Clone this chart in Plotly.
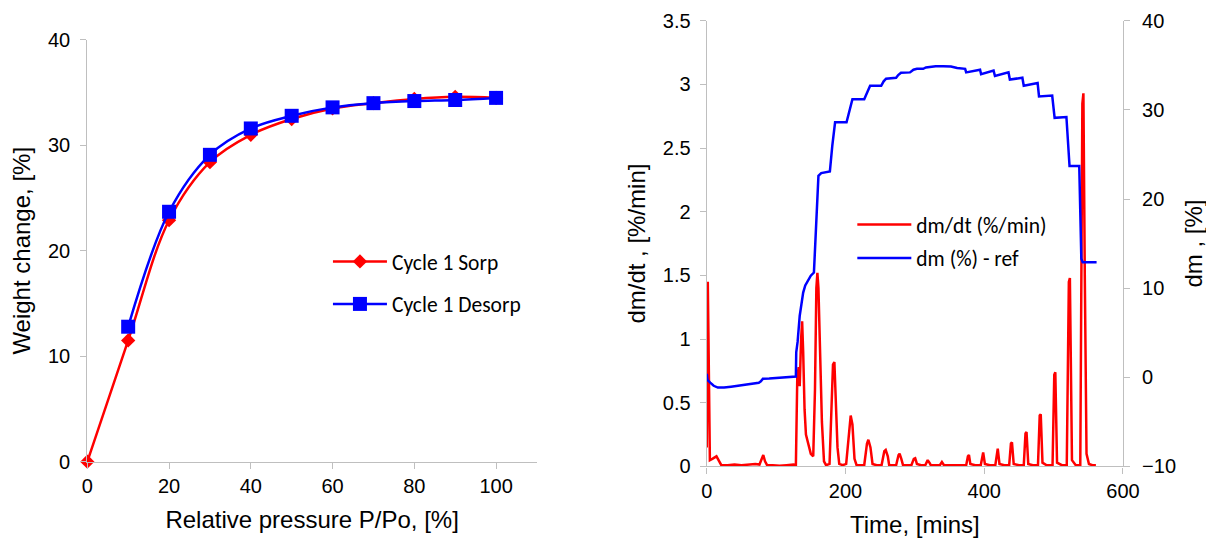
import plotly.graph_objects as go

# ---------------- Left chart data ----------------
sorp_p = [0, 10, 20, 30, 40, 50, 60, 70, 80, 90, 100]
sorp_w = [0, 11.5, 22.9, 28.4, 31.0, 32.5, 33.5, 34.0, 34.4, 34.6, 34.5]
desorp_p = [10, 20, 30, 40, 50, 60, 70, 80, 90, 100]
desorp_w = [12.8, 23.7, 29.1, 31.6, 32.8, 33.6, 34.0, 34.2, 34.3, 34.5]

# ---------------- Right chart data ----------------
dmdt_t = [0, 1.5, 2.5, 4.5, 8, 11, 14, 17, 21, 30, 40, 50, 60, 70, 76, 79, 81.5, 84, 87, 95,
          105, 115, 125, 128.5, 130.5, 132.5, 134, 136, 137.5, 139, 141, 143, 147, 150, 153.5,
          156, 158, 159.5, 161, 163.5, 166, 169, 172, 177, 180, 182, 184, 186, 188.5, 191, 196,
          201, 205, 207.5, 210, 213, 216, 222, 227, 231, 233, 236, 239, 245, 252, 256, 258, 261,
          263, 268, 273, 276.5, 278, 280.5, 283, 289, 295, 298.5, 300.5, 303, 309, 315, 318.5,
          321, 323, 330, 336, 339, 342, 350, 360, 368, 374, 376.5, 378, 380, 387, 395, 397.5,
          398.5, 401, 408, 416, 418.5, 419.5, 422, 429, 436, 438.5, 440, 442.5, 450, 457, 459.5,
          461, 463.5, 470, 477.5, 480, 481.5, 484, 490, 498.5, 501, 502.5, 505, 512, 519, 522,
          523.5, 526.5, 532, 538.5, 541.5, 543, 545, 547.5, 551, 556, 561]
dmdt_v = [0.15, 1.45, 1.0, 0.05, 0.06, 0.07, 0.08, 0.05, 0.01, 0.01, 0.015, 0.01, 0.015, 0.02,
          0.015, 0.05, 0.09, 0.04, 0.01, 0.01, 0.005, 0.01, 0.015, 0.01, 0.7, 0.78, 0.63, 1.0,
          1.14, 0.9, 0.45, 0.25, 0.16, 0.1, 0.08, 0.6, 1.4, 1.52, 1.4, 0.9, 0.35, 0.04, 0.01,
          0.02, 0.5, 0.8, 0.82, 0.55, 0.15, 0.02, 0.01, 0.02, 0.3, 0.4, 0.33, 0.06, 0.01, 0.01,
          0.01, 0.18, 0.21, 0.15, 0.02, 0.01, 0.01, 0.12, 0.13, 0.08, 0.01, 0.01, 0.01, 0.09,
          0.1, 0.06, 0.01, 0.01, 0.01, 0.06, 0.065, 0.02, 0.01, 0.01, 0.05, 0.03, 0.01, 0.01,
          0.01, 0.035, 0.01, 0.01, 0.01, 0.01, 0.01, 0.08, 0.09, 0.02, 0.01, 0.01, 0.1, 0.11,
          0.02, 0.01, 0.01, 0.13, 0.14, 0.02, 0.01, 0.01, 0.18, 0.19, 0.02, 0.01, 0.01, 0.26,
          0.27, 0.02, 0.01, 0.01, 0.40, 0.41, 0.03, 0.01, 0.01, 0.72, 0.74, 0.03, 0.01, 0.01,
          1.45, 1.48, 0.05, 0.01, 0.01, 2.85, 2.93, 1.5, 0.1, 0.02, 0.01, 0.01]

dm_t = [0, 1, 5, 10, 16, 25, 35, 45, 55, 65, 75, 78, 81, 90, 100, 110, 120, 128.5, 129, 131,
        134, 137, 139, 142, 146, 150, 154.5, 158, 161, 165, 177.5, 181, 185, 201.5, 206, 210,
        227, 231, 235.5, 251.5, 255, 258.5, 273, 276, 280, 293, 298, 303, 312, 316, 320, 330,
        341, 352, 361, 372.5, 374, 394, 395.5, 413.5, 415.5, 435, 437, 455, 457, 477, 479, 498,
        501.5, 518.5, 523, 537, 540, 542, 562]
dm_v = [0.4, -0.3, -0.6, -0.95, -1.15, -1.15, -1.05, -0.95, -0.85, -0.75, -0.6, -0.45, -0.15,
        -0.12, -0.08, -0.02, 0.02, 0.08, 2.8, 4.0, 6.9, 8.6, 9.5, 10.3, 10.9, 11.4, 11.75, 17,
        22.6, 22.9, 23.1, 26, 28.6, 28.6, 30, 31.2, 31.2, 32, 32.7, 32.7, 33.2, 33.5, 33.6, 33.9,
        34.15, 34.2, 34.5, 34.6, 34.6, 34.75, 34.8, 34.9, 34.9, 34.85, 34.7, 34.6, 34.2, 34.5,
        34.0, 34.4, 33.8, 34.2, 33.4, 33.6, 32.7, 33.0, 31.5, 31.6, 29.1, 29.2, 23.7, 23.7,
        13.3, 12.9, 12.9]

RED = "#FF0000"
BLUE = "#0000FF"
AXC = "#BFBFBF"
TICKFONT = dict(family="Liberation Sans, Arial, sans-serif", size=20, color="#000000")
TITLEFONT = dict(family="Liberation Sans, Arial, sans-serif", size=24, color="#000000")
LEGFONT = dict(family="Carlito, Lato, sans-serif", size=21.5, color="#000000")

fig = go.Figure()

fig.add_trace(go.Scatter(x=sorp_p, y=sorp_w, name="Cycle 1 Sorp", mode="lines+markers",
                         line=dict(color=RED, width=2.5, shape="spline"),
                         marker=dict(symbol="diamond", size=11, color=RED),
                         cliponaxis=False, xaxis="x", yaxis="y", legend="legend",
                         legendgroup="a"))
fig.add_trace(go.Scatter(x=desorp_p, y=desorp_w, name="Cycle 1 Desorp", mode="lines+markers",
                         line=dict(color=BLUE, width=2.5, shape="spline"),
                         marker=dict(symbol="square", size=14, color=BLUE),
                         cliponaxis=False, xaxis="x", yaxis="y", legend="legend",
                         legendgroup="b"))

fig.add_trace(go.Scatter(x=dmdt_t, y=dmdt_v, name="dm/dt (%/min)", mode="lines",
                         line=dict(color=RED, width=2.5),
                         xaxis="x2", yaxis="y2", legend="legend2", legendgroup="c"))
fig.add_trace(go.Scatter(x=dm_t, y=dm_v, name="dm (%) - ref", mode="lines",
                         line=dict(color=BLUE, width=2.5),
                         xaxis="x2", yaxis="y3", legend="legend2", legendgroup="d"))

axis_common = dict(showline=True, linecolor=AXC, linewidth=1.3, ticks="outside", ticklen=6,
                   tickcolor=AXC, tickwidth=1.3, showgrid=False, zeroline=False,
                   tickfont=TICKFONT, title_font=TITLEFONT, automargin=False)

# the page places the figure 8 px from the top-left corner
fig.update_layout(
    width=1206, height=535,
    margin=dict(l=0, r=0, t=0, b=0, autoexpand=False),
    paper_bgcolor="white", plot_bgcolor="white",
    showlegend=True,
    xaxis=dict(domain=[0.06575, 0.4386], range=[0, 110], tick0=0, dtick=20, anchor="y",
               title=dict(text="Relative pressure P/Po, [%]"), **axis_common),
    yaxis=dict(domain=[0.1520, 0.9404], range=[0, 40], tick0=0, dtick=10, anchor="x",
               ticklabelstandoff=6,
               title=dict(text="Weight change, [%]", standoff=10), **axis_common),
    xaxis2=dict(domain=[0.5794, 0.9245], range=[0, 600], tick0=0, dtick=200, anchor="y2",
                title=dict(text="Time, [mins]"), **axis_common),
    yaxis2=dict(domain=[0.1430, 0.9763], range=[0, 3.5], tick0=0, dtick=0.5, anchor="x2",
                ticklabelstandoff=5,
                title=dict(text="dm/dt , [%/min]", standoff=10), **axis_common),
    yaxis3=dict(range=[-10, 40], tick0=-10, dtick=10, overlaying="y2", side="right",
                anchor="x2", ticklabelstandoff=8,
                title=dict(text="dm , [%]", standoff=10), **axis_common),
    legend=dict(x=0.2653, y=0.5645, xanchor="left", yanchor="top", font=LEGFONT,
                bgcolor="rgba(0,0,0,0)", tracegroupgap=11.5, itemwidth=54),
    legend2=dict(x=0.7001, y=0.6336, xanchor="left", yanchor="top", font=LEGFONT,
                 bgcolor="rgba(0,0,0,0)", tracegroupgap=2.5, itemwidth=54),
)

fig.write_html("out.html")
